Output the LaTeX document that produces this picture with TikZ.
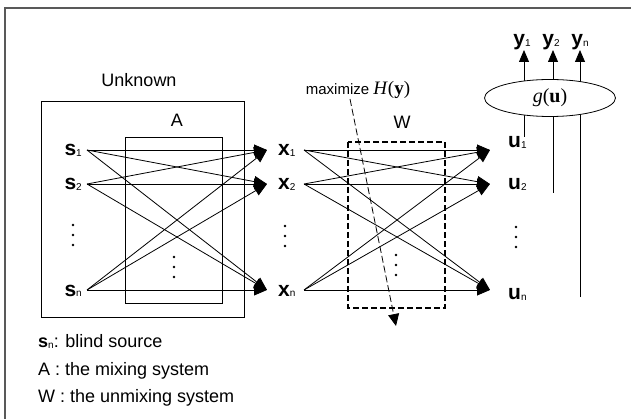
\documentclass[tikz,border=0pt]{standalone}
\usepackage{fontspec}
\setmainfont{Liberation Sans}
\newfontfamily\serifpart{Liberation Serif}
\usetikzlibrary{arrows.meta,positioning,shapes.geometric,backgrounds}

% bold signal name with a small lowered index
\newcommand{\sig}[2]{\textbf{#1}\raisebox{-1pt}{\fontsize{10}{10}\selectfont #2}}

\begin{document}
\begin{tikzpicture}[x=1pt, y=-1pt,
  txt/.style={font=\fontsize{18}{20}\selectfont, inner sep=0pt},
  lbl/.style={font=\fontsize{21}{24}\selectfont, inner sep=0pt, text height=13pt, text depth=1pt},
  wire/.style={line width=0.8pt},
  arr/.style={wire, -{Triangle[length=13pt, width=11pt]}},
  uparr/.style={wire, -{Triangle[length=12pt, width=10pt]}},
]
  \useasboundingbox (0,0) rectangle (631,419);
  \draw[line width=1.6pt, black!65] (631,8) -- (5,8) -- (5,419);

  % mixing side
  \draw[wire] (41,101) rectangle (244,317);
  \draw[wire] (125,137) rectangle (222,303);
  \node[txt, anchor=base] (unk) at (139,87) {Unknown};
  \node[txt, anchor=base] (amix) at (177,127) {A};

  % unmixing side
  \draw[line width=1.6pt, dash pattern=on 6pt off 3pt] (348,142) rectangle (445,308);
  \node[txt, anchor=base] (wunmix) at (402,129) {W};

  \foreach \i/\y in {1/150, 2/184, n/290} {
    \coordinate (s\i) at (87,\y);
    \coordinate (x\i) at (267,\y);
    \coordinate (xo\i) at (304,\y);
    \coordinate (u\i) at (490,\y);
    \node[lbl, left=5pt of s\i] (ls\i) {\sig{s}{\i}};
    \node[lbl, right=11pt of x\i] (lx\i) {\sig{x}{\i}};
  }
  \node[lbl, right=18pt of u1, yshift=8pt] (lu1) {\sig{u}{1}};
  \node[lbl, right=18pt of u2] (lu2) {\sig{u}{2}};
  \node[lbl, right=18pt of un, yshift=-3pt] (lun) {\sig{u}{n}};

  \foreach \i in {1,2,n}
    \foreach \j in {1,2,n} {
      \draw[arr] (s\i) -- (x\j);
      \draw[arr] (xo\i) -- (u\j);
    }

  % vertical ellipses
  \foreach \x/\y in {73/225, 174/257, 285/226, 396/255, 516/227}
    \foreach \k in {0,1,2}
      \fill (\x,\y+10*\k) circle (1.4pt);

  % nonlinearity and outputs
  \node[ellipse, draw, wire, fill=white, minimum width=131pt, minimum height=37pt, inner sep=0pt]
    (g) at (550,98) {\serifpart\fontsize{20}{22}\selectfont\textit{g}(\textbf{u})};
  \coordinate (v1) at (524,137);
  \coordinate (v2) at (553,193);
  \coordinate (vn) at (580,297);
  \coordinate (yt1) at (524,50);
  \coordinate (yt2) at (553,50);
  \coordinate (ytn) at (580,50);
  \begin{scope}[on background layer]
    \foreach \i in {1,2,n} {
      \draw[wire] (v\i) -- (v\i |- g.center);
      \draw[uparr] (yt\i |- g.center) -- (yt\i);
    }
  \end{scope}
  \node[lbl, above=3pt of yt1, xshift=-2pt] (ly1) {\sig{y}{1}};
  \node[lbl, above=3pt of yt2, xshift=-2pt] (ly2) {\sig{y}{2}};
  \node[lbl, above=3pt of ytn] (lyn) {\sig{y}{n}};

  % objective
  \node[inner sep=0pt, anchor=base] (obj) at (358,95)
    {\fontsize{15}{18}\selectfont maximize {\serifpart\fontsize{19}{20}\selectfont\textit{H}(\textbf{y})}};
  \coordinate (objtail) at (350,99);
  \coordinate (objtip) at (396,326);
  \draw[wire, dash pattern=on 7pt off 3pt, -{Triangle[length=12pt, width=11pt]}]
    (objtail) -- (objtip);

  % legend
  \node[txt, anchor=base west] (leg1) at (38,347) {\sig{s}{n}: blind source};
  \node[txt, anchor=base west] (leg2) at (38,375) {A : the mixing system};
  \node[txt, anchor=base west] (leg3) at (38,402) {W : the unmixing system};
\end{tikzpicture}
\end{document}
